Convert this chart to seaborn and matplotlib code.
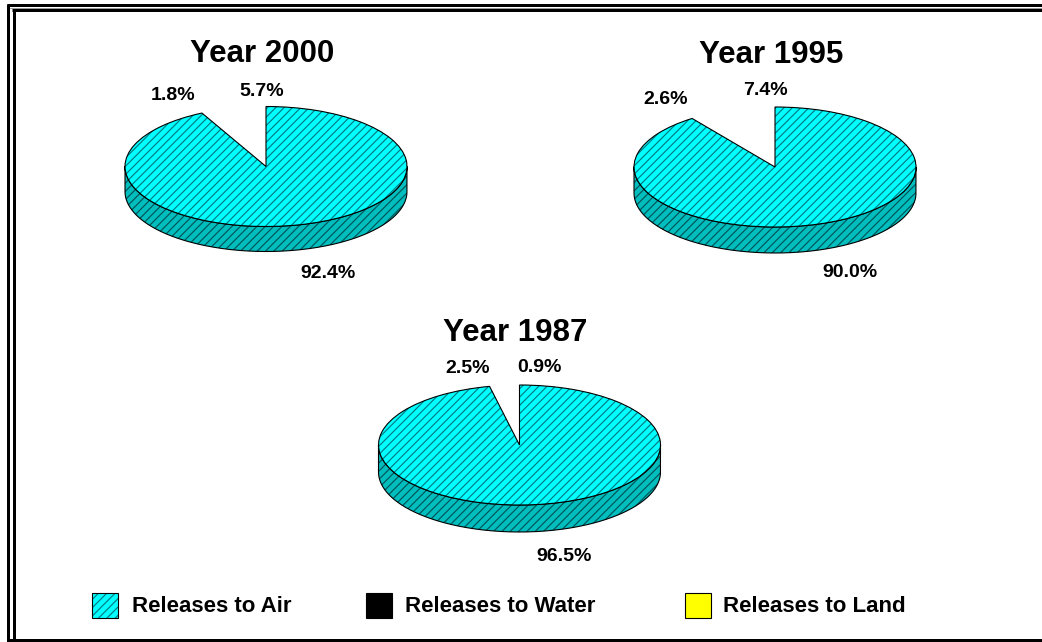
import numpy as np
import matplotlib
matplotlib.use("Agg")
import matplotlib.pyplot as plt
import seaborn as sns
from matplotlib.transforms import Affine2D
from matplotlib.patches import Rectangle

# ---------------- data ----------------
years = ["Year 2000", "Year 1995", "Year 1987"]
categories = ["Releases to Air", "Releases to Water", "Releases to Land"]
air = [92.4, 90.0, 96.5]
water = [1.8, 2.6, 2.5]
land = [5.7, 7.4, 0.9]

# ---------------- layout / style ----------------
W, H = 1042, 642
CENTERS = [(266, 166.5), (775, 167), (519.5, 445)]   # pixel positions of pie centres
RX, RY = 141, 60
DEPTHS = [25, 26, 27]
# label offsets (dx, baseline dy) in pixels from each pie centre: air, water, land
LABEL_OFFSETS = [
    [(62, 112), (-93, -67), (-4, -71)],
    [(75, 110), (-109, -63), (-10, -72)],
    [(45, 116), (-52, -72), (20, -73)],
]
TITLE_DX, TITLE_DY = -4, -104

TOP = "#00FFFF"
TOP_HATCH = "#007A82"
SIDE = "#00BEBE"
SIDE_HATCH = "#005458"
WATER_C = "#000000"
LAND_C = "#FFFF00"

sns.set_theme(style="white")
plt.rcParams["font.family"] = ["Liberation Sans", "DejaVu Sans"]
plt.rcParams["hatch.linewidth"] = 0.85

fig = plt.figure(figsize=(W / 100, H / 100), dpi=100)
ax = fig.add_axes([0, 0, 1, 1])


def Y(py):
    return H - py


for i, year in enumerate(years):
    cx, cyp = CENTERS[i]
    cy = Y(cyp)
    depth = DEPTHS[i]
    vals = [air[i], water[i], land[i]]
    squash = Affine2D().translate(-cx, -cy).scale(1, RY / RX).translate(cx, cy) + ax.transData

    # top face (hatched fill)
    wedges, _ = ax.pie(vals, startangle=90, counterclock=False, radius=RX,
                       center=(cx, cy), colors=[TOP, "white", "white"],
                       wedgeprops=dict(hatch="////", edgecolor=TOP_HATCH, linewidth=0))
    # top face outline
    outl, _ = ax.pie(vals, startangle=90, counterclock=False, radius=RX,
                     center=(cx, cy),
                     wedgeprops=dict(fill=False, edgecolor="black", linewidth=0.8))
    for w in wedges:
        w.set_transform(squash)
        w.set_zorder(3)
    for w in outl:
        w.set_transform(squash)
        w.set_zorder(4)
    for w in wedges[1:] + outl[1:]:
        w.set_visible(False)

    # side (extruded front rim of the air slice)
    a, b = wedges[0].theta1, wedges[0].theta2
    for k in (-1, 0, 1):
        lo, hi = max(a, -180 + 360 * k), min(b, 0 + 360 * k)
        if hi <= lo:
            continue
        t = np.radians(np.linspace(lo, hi, 300))
        xs = cx + RX * np.cos(t)
        yt = cy + RY * np.sin(t)
        yb = yt - depth
        px = np.concatenate([xs, xs[::-1], xs[:1]])
        py = np.concatenate([yt, yb[::-1], yt[:1]])
        ax.fill(px, py, facecolor=SIDE, edgecolor=SIDE_HATCH, hatch="////",
                linewidth=0, zorder=1)
        ax.plot(px, py, color="black", lw=0.8, zorder=2)

    # title
    ax.text(cx + TITLE_DX, Y(cyp + TITLE_DY), year, ha="center", va="baseline",
            fontsize=22.5, fontweight="bold", color="black")
    # percent labels
    for v, (dx, dy) in zip(vals, LABEL_OFFSETS[i]):
        ax.text(cx + dx, Y(cyp + dy), f"{v:.1f}%", ha="center", va="baseline",
                fontsize=14, fontweight="bold", color="black")

# ---------------- legend ----------------
LEG_BOX_X = [92, 366, 685]
LEG_TEXT_X = [132, 405, 723]
LEG_TOP, LEG_W, LEG_H = 593, 26, 25
leg_fill = [TOP, WATER_C, LAND_C]
for j, cat in enumerate(categories):
    x0 = LEG_BOX_X[j]
    if j == 0:
        ax.add_patch(Rectangle((x0, Y(LEG_TOP + LEG_H)), LEG_W, LEG_H, facecolor=TOP,
                               edgecolor=TOP_HATCH, hatch="////", linewidth=0, zorder=3))
        ax.add_patch(Rectangle((x0, Y(LEG_TOP + LEG_H)), LEG_W, LEG_H, fill=False,
                               edgecolor="black", linewidth=0.8, zorder=4))
    else:
        ax.add_patch(Rectangle((x0, Y(LEG_TOP + LEG_H)), LEG_W, LEG_H,
                               facecolor=leg_fill[j], edgecolor="black", linewidth=0.8, zorder=3))
    ax.text(LEG_TEXT_X[j], Y(612.5), cat, ha="left", va="baseline",
            fontsize=16, fontweight="bold", color="black")

# ---------------- frame (double border) ----------------
lw3 = 3 * 72 / 100
ax.plot([7, W], [Y(5), Y(5)], color="black", lw=lw3, solid_capstyle="butt", clip_on=False)
ax.plot([8, 8], [Y(4), Y(H)], color="black", lw=lw3, solid_capstyle="butt", clip_on=False)
ax.plot([10, W], [Y(7.5), Y(7.5)], color="#9a9a9a", lw=0.72, clip_on=False)
ax.plot([12, W], [Y(10), Y(10)], color="black", lw=lw3, solid_capstyle="butt", clip_on=False)
ax.plot([13.5, 13.5], [Y(9), Y(H)], color="black", lw=lw3, solid_capstyle="butt", clip_on=False)
ax.plot([7, W], [Y(639.5), Y(639.5)], color="black", lw=lw3, solid_capstyle="butt", clip_on=False)

ax.set_aspect("auto")
ax.set_xlim(0, W)
ax.set_ylim(0, H)
ax.axis("off")

fig.savefig("out.png", dpi=100, facecolor="white")
